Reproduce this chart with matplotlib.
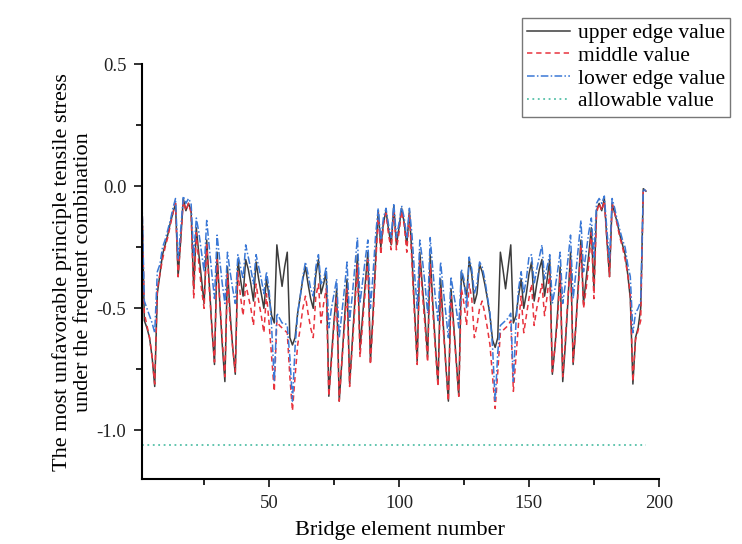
import matplotlib
matplotlib.use("Agg")
import matplotlib.pyplot as plt
from matplotlib.ticker import MultipleLocator

plt.rcParams['font.family'] = ['Liberation Serif', 'DejaVu Serif']

# element numbers 1..195
elements = list(range(1, 196))

upper = [
    -0.01, -0.55, -0.58, -0.62, -0.70, -0.82, -0.44, -0.36, -0.28, -0.24,
    -0.20, -0.15, -0.11, -0.07, -0.37, -0.22, -0.05, -0.10, -0.07, -0.10,
    -0.42, -0.17, -0.28, -0.38, -0.48, -0.22, -0.40, -0.58, -0.73, -0.27,
    -0.47, -0.65, -0.80, -0.33, -0.52, -0.66, -0.77, -0.30, -0.38, -0.45,
    -0.30, -0.34, -0.40, -0.47, -0.31, -0.38, -0.44, -0.50, -0.38, -0.45,
    -0.53, -0.56, -0.24, -0.33, -0.41, -0.33, -0.27, -0.62, -0.65, -0.62,
    -0.52, -0.45, -0.38, -0.33, -0.40, -0.46, -0.50, -0.36, -0.30, -0.44,
    -0.40, -0.35, -0.86, -0.70, -0.55, -0.42, -0.88, -0.72, -0.55, -0.38,
    -0.81, -0.64, -0.47, -0.28, -0.67, -0.53, -0.40, -0.27, -0.72, -0.52,
    -0.30, -0.10, -0.25, -0.15, -0.10, -0.18, -0.24, -0.08, -0.24, -0.17,
    -0.09, -0.15, -0.24, -0.10, -0.29, -0.51, -0.72, -0.27, -0.41, -0.54,
    -0.70, -0.28, -0.48, -0.65, -0.81, -0.38, -0.56, -0.73, -0.88, -0.42,
    -0.56, -0.71, -0.86, -0.35, -0.40, -0.45, -0.30, -0.36, -0.48, -0.44,
    -0.32, -0.35, -0.40, -0.46, -0.53, -0.63, -0.66, -0.62, -0.27, -0.34,
    -0.42, -0.33, -0.24, -0.56, -0.53, -0.45, -0.38, -0.50, -0.44, -0.36,
    -0.31, -0.47, -0.40, -0.34, -0.30, -0.45, -0.38, -0.30, -0.77, -0.66,
    -0.52, -0.33, -0.80, -0.65, -0.47, -0.27, -0.73, -0.58, -0.40, -0.22,
    -0.48, -0.38, -0.28, -0.17, -0.42, -0.10, -0.07, -0.10, -0.05, -0.22,
    -0.37, -0.07, -0.11, -0.15, -0.20, -0.24, -0.28, -0.36, -0.46, -0.81,
    -0.62, -0.58, -0.50, -0.01, -0.02,
]

middle = [
    -0.01, -0.52, -0.57, -0.62, -0.70, -0.81, -0.42, -0.36, -0.30, -0.25,
    -0.21, -0.16, -0.11, -0.07, -0.37, -0.22, -0.06, -0.10, -0.07, -0.11,
    -0.46, -0.19, -0.32, -0.42, -0.50, -0.24, -0.42, -0.58, -0.72, -0.30,
    -0.46, -0.63, -0.78, -0.36, -0.55, -0.66, -0.76, -0.35, -0.45, -0.53,
    -0.40, -0.45, -0.50, -0.57, -0.40, -0.47, -0.53, -0.60, -0.44, -0.56,
    -0.70, -0.84, -0.55, -0.57, -0.58, -0.59, -0.60, -0.78, -0.92, -0.78,
    -0.65, -0.58, -0.50, -0.45, -0.52, -0.58, -0.62, -0.45, -0.40, -0.56,
    -0.48, -0.42, -0.86, -0.72, -0.57, -0.45, -0.88, -0.72, -0.58, -0.42,
    -0.82, -0.66, -0.50, -0.32, -0.70, -0.56, -0.43, -0.30, -0.73, -0.55,
    -0.33, -0.11, -0.28, -0.16, -0.11, -0.20, -0.26, -0.09, -0.26, -0.19,
    -0.10, -0.16, -0.27, -0.11, -0.32, -0.54, -0.73, -0.30, -0.44, -0.57,
    -0.72, -0.32, -0.51, -0.67, -0.82, -0.42, -0.58, -0.73, -0.88, -0.45,
    -0.58, -0.72, -0.86, -0.42, -0.48, -0.57, -0.40, -0.46, -0.62, -0.57,
    -0.50, -0.47, -0.52, -0.58, -0.65, -0.78, -0.91, -0.76, -0.60, -0.59,
    -0.58, -0.57, -0.55, -0.84, -0.70, -0.56, -0.45, -0.60, -0.53, -0.46,
    -0.40, -0.57, -0.50, -0.45, -0.40, -0.53, -0.45, -0.35, -0.76, -0.66,
    -0.55, -0.36, -0.78, -0.63, -0.46, -0.30, -0.72, -0.58, -0.42, -0.24,
    -0.50, -0.42, -0.32, -0.19, -0.46, -0.11, -0.07, -0.10, -0.06, -0.22,
    -0.37, -0.07, -0.11, -0.16, -0.21, -0.25, -0.30, -0.36, -0.44, -0.80,
    -0.63, -0.59, -0.55, -0.01, -0.02,
]

lower = [
    -0.01, -0.47, -0.50, -0.53, -0.56, -0.60, -0.35, -0.32, -0.25, -0.22,
    -0.18, -0.14, -0.09, -0.05, -0.30, -0.18, -0.04, -0.07, -0.05, -0.07,
    -0.29, -0.13, -0.19, -0.27, -0.35, -0.14, -0.25, -0.36, -0.46, -0.20,
    -0.30, -0.40, -0.48, -0.27, -0.35, -0.42, -0.48, -0.28, -0.33, -0.38,
    -0.24, -0.29, -0.34, -0.40, -0.28, -0.33, -0.38, -0.44, -0.35, -0.42,
    -0.58, -0.80, -0.52, -0.54, -0.56, -0.56, -0.57, -0.70, -0.88, -0.66,
    -0.52, -0.45, -0.37, -0.31, -0.36, -0.42, -0.45, -0.33, -0.28, -0.40,
    -0.38, -0.33, -0.58, -0.50, -0.44, -0.38, -0.62, -0.52, -0.42, -0.31,
    -0.55, -0.45, -0.33, -0.21, -0.48, -0.39, -0.30, -0.22, -0.50, -0.36,
    -0.20, -0.09, -0.22, -0.13, -0.09, -0.16, -0.21, -0.07, -0.21, -0.15,
    -0.08, -0.13, -0.21, -0.09, -0.20, -0.36, -0.50, -0.22, -0.30, -0.40,
    -0.52, -0.21, -0.34, -0.46, -0.55, -0.31, -0.42, -0.52, -0.62, -0.37,
    -0.44, -0.50, -0.58, -0.34, -0.38, -0.50, -0.29, -0.34, -0.44, -0.40,
    -0.31, -0.33, -0.38, -0.45, -0.52, -0.66, -0.88, -0.68, -0.57, -0.56,
    -0.55, -0.54, -0.52, -0.80, -0.56, -0.42, -0.35, -0.44, -0.38, -0.29,
    -0.28, -0.40, -0.34, -0.29, -0.24, -0.38, -0.33, -0.28, -0.48, -0.42,
    -0.35, -0.27, -0.48, -0.40, -0.30, -0.20, -0.46, -0.36, -0.25, -0.14,
    -0.35, -0.27, -0.19, -0.13, -0.29, -0.07, -0.05, -0.07, -0.04, -0.18,
    -0.30, -0.05, -0.09, -0.14, -0.18, -0.22, -0.25, -0.32, -0.37, -0.60,
    -0.52, -0.50, -0.47, -0.01, -0.02,
]

allowable_x = [1, 195]
allowable_y = [-1.06, -1.06]

fig = plt.figure(figsize=(7.42, 5.44), dpi=100)
ax = fig.add_axes([0.191, 0.119, 0.697, 0.763])

ax.plot(elements, upper, color='#3c3c3c', lw=1.1, ls='-', label='upper edge value')
ax.plot(elements, middle, color='#e8333d', lw=1.1, ls=(0, (3.5, 2.5)), label='middle value')
ax.plot(elements, lower, color='#3a78d6', lw=1.1, ls=(0, (5, 1.5, 1, 1.5)), label='lower edge value')
ax.plot(allowable_x, allowable_y, color='#55c0a8', lw=1.3, ls=(0, (1, 2)), label='allowable value')

ax.set_xlim(1, 200)
ax.set_ylim(-1.2, 0.5)
ax.xaxis.set_major_locator(MultipleLocator(50))
ax.xaxis.set_minor_locator(MultipleLocator(25))
ax.yaxis.set_major_locator(MultipleLocator(0.5))
ax.yaxis.set_minor_locator(MultipleLocator(0.25))
ax.set_yticks([0.5, 0.0, -0.5, -1.0])
ax.set_yticklabels(['0.5', '0.0', '-0.5', '-1.0'])

for s in ['top', 'right']:
    ax.spines[s].set_visible(False)
for s in ['left', 'bottom']:
    ax.spines[s].set_linewidth(1.5)
ax.tick_params(which='major', direction='out', length=6, width=1.3, labelsize=13.5,
               colors='#222222', pad=5)
ax.tick_params(which='minor', direction='out', length=4, width=1.2)

ax.set_xlabel('Bridge element number', fontsize=16, labelpad=7)
ax.set_ylabel('The most unfavorable principle tensile stress\nunder the frequent combination',
              fontsize=16, labelpad=3, linespacing=1.05)

fig.legend(loc='upper right', bbox_to_anchor=(0.99, 0.975), fontsize=15.5,
           frameon=True, fancybox=False, edgecolor='#555555', handlelength=2.0,
           labelspacing=0.12, borderpad=0.25, handletextpad=0.35, borderaxespad=0.2)

fig.savefig('out.png', dpi=100)
